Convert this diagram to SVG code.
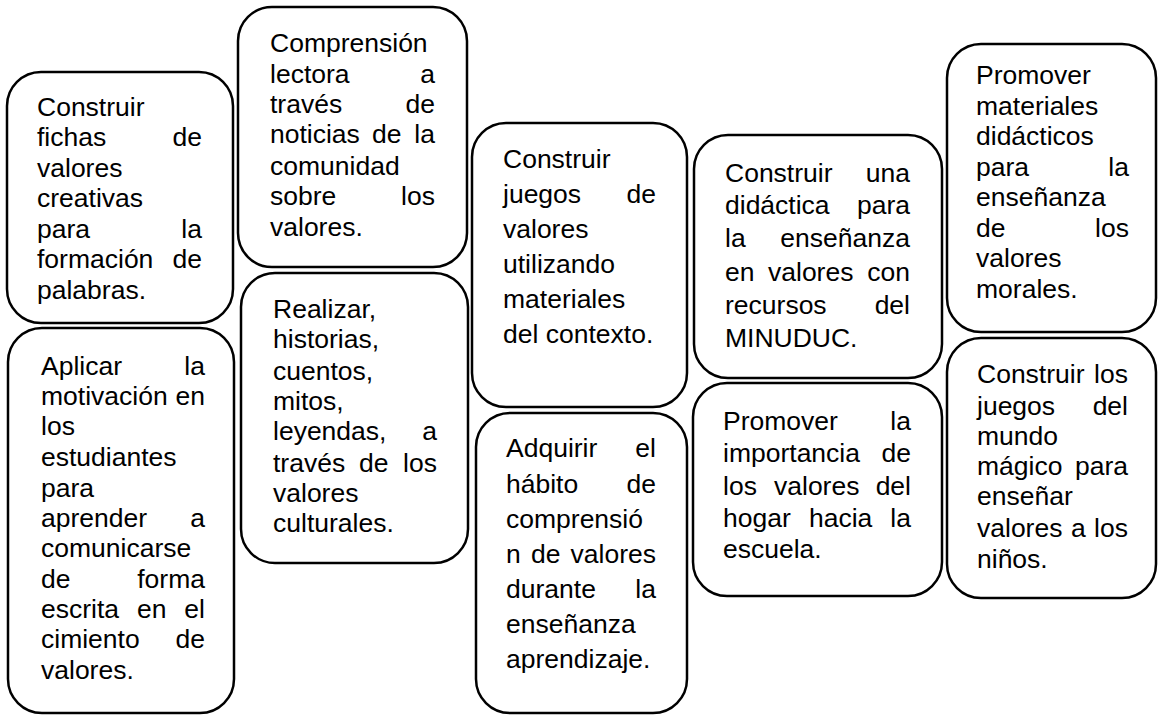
<svg xmlns="http://www.w3.org/2000/svg" width="1159" height="715" viewBox="0 0 1159 715">
<style>
.box{fill:#fff;stroke:#000;stroke-width:2.5}
.t{font-family:"Liberation Sans",Arial,sans-serif;font-size:26.5px;fill:#000}
.r{text-anchor:end}
</style>
<rect width="1159" height="715" fill="#fff"/>
<g id="connectors"/>
<g id="n1">
<rect class="box" x="7" y="72" width="226" height="251" rx="34"/>
<text class="t" x="37" y="116">Construir</text>
<text class="t" x="37" y="146">fichas</text><text class="t r" x="202" y="146">de</text>
<text class="t" x="37" y="177">valores</text>
<text class="t" x="37" y="207">creativas</text>
<text class="t" x="37" y="238">para</text><text class="t r" x="202" y="238">la</text>
<text class="t" x="37" y="268">formación</text><text class="t r" x="202" y="268">de</text>
<text class="t" x="37" y="299">palabras.</text>
</g>
<g id="n2">
<rect class="box" x="8" y="328" width="226" height="385" rx="34"/>
<text class="t" x="41" y="375">Aplicar</text><text class="t r" x="205" y="375">la</text>
<text class="t" x="41" y="405">motivación</text><text class="t r" x="205" y="405">en</text>
<text class="t" x="41" y="435">los</text>
<text class="t" x="41" y="466">estudiantes</text>
<text class="t" x="41" y="497">para</text>
<text class="t" x="41" y="527">aprender</text><text class="t r" x="205" y="527">a</text>
<text class="t" x="41" y="557">comunicarse</text>
<text class="t" x="41" y="588">de</text><text class="t r" x="205" y="588">forma</text>
<text class="t" x="41" y="618">escrita</text><text class="t" x="137" y="618">en</text><text class="t r" x="205" y="618">el</text>
<text class="t" x="41" y="648">cimiento</text><text class="t r" x="205" y="648">de</text>
<text class="t" x="41" y="679">valores.</text>
</g>
<g id="n3">
<rect class="box" x="238" y="7" width="229" height="260" rx="34"/>
<text class="t" x="270" y="52">Comprensión</text>
<text class="t" x="270" y="83">lectora</text><text class="t r" x="435" y="83">a</text>
<text class="t" x="270" y="113">través</text><text class="t r" x="435" y="113">de</text>
<text class="t" x="270" y="143">noticias</text><text class="t" x="372" y="143">de</text><text class="t r" x="435" y="143">la</text>
<text class="t" x="270" y="175">comunidad</text>
<text class="t" x="270" y="205">sobre</text><text class="t r" x="435" y="205">los</text>
<text class="t" x="270" y="236">valores.</text>
</g>
<g id="n4">
<rect class="box" x="241" y="273" width="227" height="290" rx="34"/>
<text class="t" x="273" y="318">Realizar,</text>
<text class="t" x="273" y="348">historias,</text>
<text class="t" x="273" y="380">cuentos,</text>
<text class="t" x="273" y="410">mitos,</text>
<text class="t" x="273" y="440">leyendas,</text><text class="t r" x="437" y="440">a</text>
<text class="t" x="273" y="472">través</text><text class="t" x="359" y="472">de</text><text class="t r" x="437" y="472">los</text>
<text class="t" x="273" y="502">valores</text>
<text class="t" x="273" y="532">culturales.</text>
</g>
<g id="n5">
<rect class="box" x="472" y="123" width="215" height="284" rx="34"/>
<text class="t" x="503" y="168">Construir</text>
<text class="t" x="503" y="203">juegos</text><text class="t r" x="656" y="203">de</text>
<text class="t" x="503" y="238">valores</text>
<text class="t" x="503" y="273">utilizando</text>
<text class="t" x="503" y="308">materiales</text>
<text class="t" x="503" y="343">del contexto.</text>
</g>
<g id="n6">
<rect class="box" x="476" y="413" width="211" height="300" rx="34"/>
<text class="t" x="506" y="457">Adquirir</text><text class="t r" x="656" y="457">el</text>
<text class="t" x="506" y="493">hábito</text><text class="t r" x="656" y="493">de</text>
<text class="t" x="506" y="528">comprensió</text>
<text class="t" x="506" y="563">n</text><text class="t" x="531" y="563">de</text><text class="t r" x="656" y="563">valores</text>
<text class="t" x="506" y="598">durante</text><text class="t r" x="656" y="598">la</text>
<text class="t" x="506" y="633">enseñanza</text>
<text class="t" x="506" y="668">aprendizaje.</text>
</g>
<g id="n7">
<rect class="box" x="694" y="135" width="248" height="243" rx="34"/>
<text class="t" x="725" y="182">Construir</text><text class="t r" x="910" y="182">una</text>
<text class="t" x="725" y="214">didáctica</text><text class="t r" x="910" y="214">para</text>
<text class="t" x="725" y="247">la</text><text class="t r" x="910" y="247">enseñanza</text>
<text class="t" x="725" y="281">en</text><text class="t" x="768" y="281">valores</text><text class="t r" x="910" y="281">con</text>
<text class="t" x="725" y="314">recursos</text><text class="t r" x="910" y="314">del</text>
<text class="t" x="725" y="347">MINUDUC.</text>
</g>
<g id="n8">
<rect class="box" x="693" y="383" width="249" height="213" rx="34"/>
<text class="t" x="723" y="430">Promover</text><text class="t r" x="911" y="430">la</text>
<text class="t" x="723" y="462">importancia</text><text class="t r" x="911" y="462">de</text>
<text class="t" x="723" y="495">los</text><text class="t" x="774" y="495">valores</text><text class="t r" x="911" y="495">del</text>
<text class="t" x="723" y="527">hogar</text><text class="t" x="809" y="527">hacia</text><text class="t r" x="911" y="527">la</text>
<text class="t" x="723" y="558">escuela.</text>
</g>
<g id="n9">
<rect class="box" x="947" y="44" width="209" height="288" rx="34"/>
<text class="t" x="976" y="84">Promover</text>
<text class="t" x="976" y="114.5">materiales</text>
<text class="t" x="976" y="145">didácticos</text>
<text class="t" x="976" y="175.5">para</text><text class="t r" x="1129" y="175.5">la</text>
<text class="t" x="976" y="206">enseñanza</text>
<text class="t" x="976" y="236.5">de</text><text class="t r" x="1129" y="236.5">los</text>
<text class="t" x="976" y="267">valores</text>
<text class="t" x="976" y="297.5">morales.</text>
</g>
<g id="n10">
<rect class="box" x="947" y="338" width="209" height="260" rx="34"/>
<text class="t" x="977" y="383">Construir</text><text class="t r" x="1128" y="383">los</text>
<text class="t" x="977" y="415">juegos</text><text class="t r" x="1128" y="415">del</text>
<text class="t" x="977" y="445">mundo</text>
<text class="t" x="977" y="475">mágico</text><text class="t r" x="1128" y="475">para</text>
<text class="t" x="977" y="505">enseñar</text>
<text class="t" x="977" y="537">valores</text><text class="t" x="1071" y="537">a</text><text class="t r" x="1128" y="537">los</text>
<text class="t" x="977" y="568">niños.</text>
</g>
</svg>
